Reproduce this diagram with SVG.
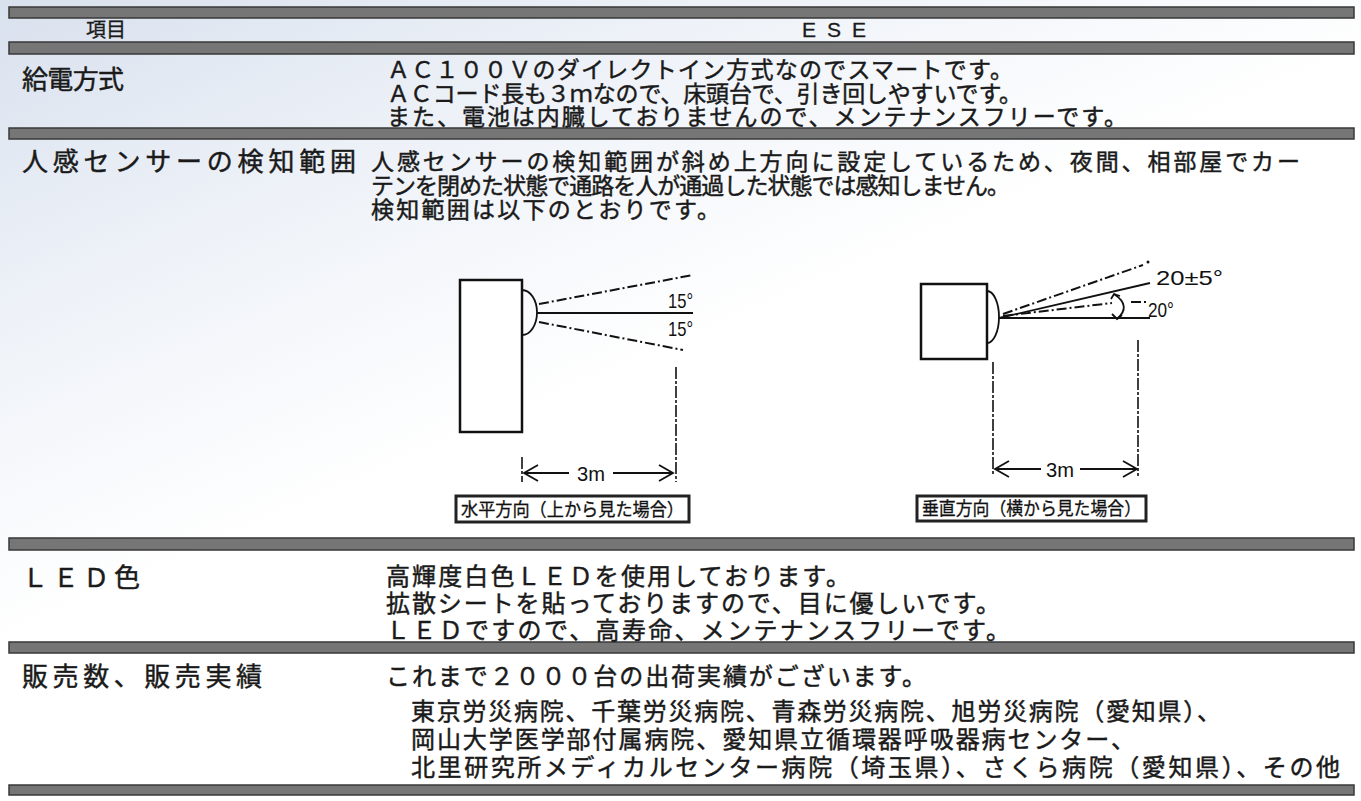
<svg xmlns="http://www.w3.org/2000/svg" width="1361" height="801" viewBox="0 0 1361 801">
<defs>
<linearGradient id="bg" x1="0" y1="0" x2="0.55" y2="0.75">
<stop offset="0" stop-color="#d9e1ee"/>
<stop offset="0.35" stop-color="#eef2f8"/>
<stop offset="0.7" stop-color="#ffffff"/>
</linearGradient>
<style>
.bar{fill:#767676;stroke:#383838;stroke-width:1.5}
.lbl{font-family:"Noto Sans CJK JP","Noto Sans",sans-serif;font-size:26px;fill:#1a1a1a;stroke:#1a1a1a;stroke-width:0.45}
.txt{font-family:"Noto Sans CJK JP","Noto Sans",sans-serif;font-size:23px;fill:#1a1a1a;stroke:#1a1a1a;stroke-width:0.45}
.txt2{font-family:"Noto Sans CJK JP","Noto Sans",sans-serif;font-size:24px;fill:#1a1a1a;stroke:#1a1a1a;stroke-width:0.45}
.hd{font-family:"Noto Sans CJK JP","Noto Sans",sans-serif;font-size:20px;fill:#1a1a1a;stroke:#1a1a1a;stroke-width:0.3}
.hd2{font-family:"Liberation Sans",Arial,sans-serif;font-size:21px;fill:#1a1a1a;stroke:#1a1a1a;stroke-width:0.3}
.num{font-family:"Liberation Sans",Arial,sans-serif;font-size:21px;fill:#111}
.cap{font-family:"Noto Sans CJK JP",sans-serif;font-size:18px;fill:#111;stroke:#111;stroke-width:0.3}
.ln{stroke:#111;stroke-width:1.8;fill:none}
.dd{stroke:#111;stroke-width:2;fill:none;stroke-dasharray:10 3 2 3}
.vd{stroke:#111;stroke-width:1.6;fill:none;stroke-dasharray:12 2 3 2}
.box{fill:#fff;stroke:#222;stroke-width:3}
</style>
</defs>
<rect x="0" y="0" width="1361" height="801" fill="url(#bg)"/>

<g id="bars">
<rect class="bar" x="9" y="7" width="1345" height="11"/>
<rect class="bar" x="9" y="42" width="1345" height="12"/>
<rect class="bar" x="9" y="128" width="1345" height="11"/>
<rect class="bar" x="9" y="538" width="1345" height="12"/>
<rect class="bar" x="9" y="642" width="1345" height="11"/>
<rect class="bar" x="9" y="785" width="1345" height="10"/>
</g>

<g id="header">
<text class="hd" x="106" y="37" text-anchor="middle">項目</text>
<text class="hd2" x="834" y="37" text-anchor="middle" textLength="64" lengthAdjust="spacing">ESE</text>
</g>

<g id="row-power">
<text class="lbl" x="22" y="89" textLength="102" lengthAdjust="spacing">給電方式</text>
<text class="txt"><tspan x="387" y="78" textLength="626" lengthAdjust="spacing">ＡＣ１００Ｖのダイレクトイン方式なのでスマートです。</tspan><tspan x="387" y="102" textLength="635" lengthAdjust="spacing">ＡＣコード長も３ｍなので、床頭台で、引き回しやすいです。</tspan><tspan x="387" y="125" textLength="740" lengthAdjust="spacing">また、電池は内臓しておりませんので、メンテナンスフリーです。</tspan></text>
</g>

<g id="row-sensor">
<text class="lbl" x="22" y="171" textLength="334" lengthAdjust="spacing">人感センサーの検知範囲</text>
<text class="txt"><tspan x="371" y="170" textLength="929" lengthAdjust="spacing">人感センサーの検知範囲が斜め上方向に設定しているため、夜間、相部屋でカー</tspan><tspan x="371" y="194" textLength="639" lengthAdjust="spacing">テンを閉めた状態で通路を人が通過した状態では感知しません。</tspan><tspan x="371" y="218" textLength="349" lengthAdjust="spacing">検知範囲は以下のとおりです。</tspan></text>
</g>

<g id="diagram-horizontal">
<rect x="460" y="280" width="62" height="152" fill="#fff" stroke="#111" stroke-width="2.5"/>
<path class="ln" d="M522,290 A15,22.5 0 0 1 522,335" stroke-width="2"/>
<line class="ln" x1="537" y1="313" x2="693" y2="313"/>
<line class="dd" x1="539" y1="304" x2="693" y2="275"/>
<line class="dd" x1="539" y1="322" x2="683" y2="350"/>
<text class="num" x="668" y="308" textLength="25" lengthAdjust="spacingAndGlyphs">15°</text>
<text class="num" x="668" y="336" textLength="25" lengthAdjust="spacingAndGlyphs">15°</text>
<line class="vd" x1="676" y1="367" x2="676" y2="482"/>
<line class="vd" x1="522" y1="457" x2="522" y2="482"/>
<line class="ln" x1="524" y1="473" x2="569" y2="473"/>
<line class="ln" x1="613" y1="473" x2="673" y2="473"/>
<polyline class="ln" points="538,465 524,473 538,481"/>
<polyline class="ln" points="659,465 673,473 659,481"/>
<text class="num" x="591" y="481" text-anchor="middle" textLength="28" lengthAdjust="spacingAndGlyphs">3m</text>
<rect class="box" x="456" y="496" width="233" height="26"/>
<text class="cap" x="461" y="516" textLength="223" lengthAdjust="spacingAndGlyphs">水平方向（上から見た場合）</text>
</g>

<g id="diagram-vertical">
<rect x="921" y="284" width="66" height="75" fill="#fff" stroke="#111" stroke-width="2.5"/>
<path class="ln" d="M987,291 A12,26 0 0 1 987,343" stroke-width="2"/>
<line class="ln" x1="999" y1="318" x2="1150" y2="318"/>
<line class="ln" x1="999" y1="318" x2="1150" y2="283"/>
<line class="dd" x1="1003" y1="314" x2="1143" y2="265"/>
<circle cx="1148" cy="262" r="1.5" fill="#111"/>
<line class="dd" x1="1003" y1="316" x2="1112" y2="303"/>
<line class="dd" x1="1131" y1="302" x2="1147" y2="302"/>
<path class="ln" d="M1114,294 Q1132,306 1117,319"/>
<polyline class="ln" points="1111,299 1114,294 1120,296"/>
<polyline class="ln" points="1112,314 1117,319 1122,315"/>
<text class="num" x="1156" y="285" textLength="67" lengthAdjust="spacingAndGlyphs">20±5°</text>
<text class="num" x="1148" y="317" textLength="26" lengthAdjust="spacingAndGlyphs">20°</text>
<line class="vd" x1="993" y1="362" x2="993" y2="476"/>
<line class="vd" x1="1138" y1="340" x2="1138" y2="476"/>
<line class="ln" x1="995" y1="469" x2="1041" y2="469"/>
<line class="ln" x1="1080" y1="469" x2="1137" y2="469"/>
<polyline class="ln" points="1009,461 995,469 1009,477"/>
<polyline class="ln" points="1123,461 1137,469 1123,477"/>
<text class="num" x="1060" y="477" text-anchor="middle" textLength="28" lengthAdjust="spacingAndGlyphs">3m</text>
<rect class="box" x="917" y="496" width="229" height="25"/>
<text class="cap" x="922" y="515" textLength="219" lengthAdjust="spacingAndGlyphs">垂直方向（横から見た場合）</text>
</g>

<g id="row-led">
<text class="lbl" x="22" y="587" textLength="118" lengthAdjust="spacing">ＬＥＤ色</text>
<text class="txt2"><tspan x="386" y="585" textLength="464" lengthAdjust="spacing">高輝度白色ＬＥＤを使用しております。</tspan><tspan x="386" y="612" textLength="614" lengthAdjust="spacing">拡散シートを貼っておりますので、目に優しいです。</tspan><tspan x="386" y="639" textLength="624" lengthAdjust="spacing">ＬＥＤですので、高寿命、メンテナンスフリーです。</tspan></text>
</g>

<g id="row-sales">
<text class="lbl" x="22" y="686" textLength="240" lengthAdjust="spacing">販売数、販売実績</text>
<text class="txt2"><tspan x="386" y="685" textLength="540" lengthAdjust="spacing">これまで２０００台の出荷実績がございます。</tspan><tspan x="411" y="720" textLength="810" lengthAdjust="spacing">東京労災病院、千葉労災病院、青森労災病院、旭労災病院（愛知県）、</tspan><tspan x="411" y="748" textLength="724" lengthAdjust="spacing">岡山大学医学部付属病院、愛知県立循環器呼吸器病センター、</tspan><tspan x="411" y="776" textLength="929" lengthAdjust="spacing">北里研究所メディカルセンター病院（埼玉県）、さくら病院（愛知県）、その他</tspan></text>
</g>
</svg>
